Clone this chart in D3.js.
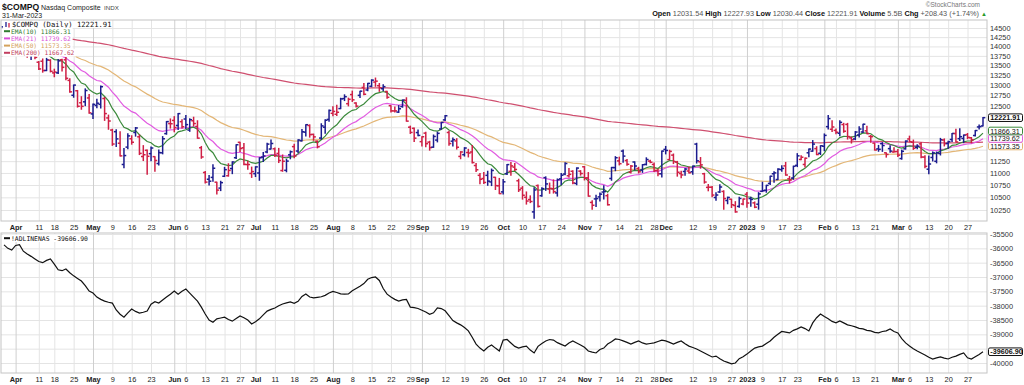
<!DOCTYPE html>
<html><head><meta charset="utf-8">
<script src="https://cdn.jsdelivr.net/npm/d3@7"></script>
<style>body{margin:0;background:#fff}svg{display:block}</style>
</head><body>
<svg id="c" width="1024" height="385"></svg>
<script>
const dates = [
"2022-03-29","2022-03-30","2022-03-31",
"2022-04-01","2022-04-04","2022-04-05","2022-04-06","2022-04-07","2022-04-08","2022-04-11","2022-04-12","2022-04-13","2022-04-14","2022-04-18","2022-04-19","2022-04-20","2022-04-21","2022-04-22","2022-04-25","2022-04-26","2022-04-27","2022-04-28","2022-04-29",
"2022-05-02","2022-05-03","2022-05-04","2022-05-05","2022-05-06","2022-05-09","2022-05-10","2022-05-11","2022-05-12","2022-05-13","2022-05-16","2022-05-17","2022-05-18","2022-05-19","2022-05-20","2022-05-23","2022-05-24","2022-05-25","2022-05-26","2022-05-27","2022-05-31",
"2022-06-01","2022-06-02","2022-06-03","2022-06-06","2022-06-07","2022-06-08","2022-06-09","2022-06-10","2022-06-13","2022-06-14","2022-06-15","2022-06-16","2022-06-17","2022-06-21","2022-06-22","2022-06-23","2022-06-24","2022-06-27","2022-06-28","2022-06-29","2022-06-30",
"2022-07-01","2022-07-05","2022-07-06","2022-07-07","2022-07-08","2022-07-11","2022-07-12","2022-07-13","2022-07-14","2022-07-15","2022-07-18","2022-07-19","2022-07-20","2022-07-21","2022-07-22","2022-07-25","2022-07-26","2022-07-27","2022-07-28","2022-07-29",
"2022-08-01","2022-08-02","2022-08-03","2022-08-04","2022-08-05","2022-08-08","2022-08-09","2022-08-10","2022-08-11","2022-08-12","2022-08-15","2022-08-16","2022-08-17","2022-08-18","2022-08-19","2022-08-22","2022-08-23","2022-08-24","2022-08-25","2022-08-26","2022-08-29","2022-08-30","2022-08-31",
"2022-09-01","2022-09-02","2022-09-06","2022-09-07","2022-09-08","2022-09-09","2022-09-12","2022-09-13","2022-09-14","2022-09-15","2022-09-16","2022-09-19","2022-09-20","2022-09-21","2022-09-22","2022-09-23","2022-09-26","2022-09-27","2022-09-28","2022-09-29","2022-09-30",
"2022-10-03","2022-10-04","2022-10-05","2022-10-06","2022-10-07","2022-10-10","2022-10-11","2022-10-12","2022-10-13","2022-10-14","2022-10-17","2022-10-18","2022-10-19","2022-10-20","2022-10-21","2022-10-24","2022-10-25","2022-10-26","2022-10-27","2022-10-28","2022-10-31",
"2022-11-01","2022-11-02","2022-11-03","2022-11-04","2022-11-07","2022-11-08","2022-11-09","2022-11-10","2022-11-11","2022-11-14","2022-11-15","2022-11-16","2022-11-17","2022-11-18","2022-11-21","2022-11-22","2022-11-23","2022-11-25","2022-11-28","2022-11-29","2022-11-30",
"2022-12-01","2022-12-02","2022-12-05","2022-12-06","2022-12-07","2022-12-08","2022-12-09","2022-12-12","2022-12-13","2022-12-14","2022-12-15","2022-12-16","2022-12-19","2022-12-20","2022-12-21","2022-12-22","2022-12-23","2022-12-27","2022-12-28","2022-12-29","2022-12-30",
"2023-01-03","2023-01-04","2023-01-05","2023-01-06","2023-01-09","2023-01-10","2023-01-11","2023-01-12","2023-01-13","2023-01-17","2023-01-18","2023-01-19","2023-01-20","2023-01-23","2023-01-24","2023-01-25","2023-01-26","2023-01-27","2023-01-30","2023-01-31",
"2023-02-01","2023-02-02","2023-02-03","2023-02-06","2023-02-07","2023-02-08","2023-02-09","2023-02-10","2023-02-13","2023-02-14","2023-02-15","2023-02-16","2023-02-17","2023-02-21","2023-02-22","2023-02-23","2023-02-24","2023-02-27","2023-02-28",
"2023-03-01","2023-03-02","2023-03-03","2023-03-06","2023-03-07","2023-03-08","2023-03-09","2023-03-10","2023-03-13","2023-03-14","2023-03-15","2023-03-16","2023-03-17","2023-03-20","2023-03-21","2023-03-22","2023-03-23","2023-03-24","2023-03-27","2023-03-28","2023-03-29","2023-03-30","2023-03-31"
];
const opens = [
14531,14532,14440,
14250,14277,14485,14001,13859,13833,13585,13610,13372,13635,13311,13312,13647,13647,13122,12755,12866,12574,12597,12690,
12310,12509,12536,12677,12216,11937,11900,11641,11179,11555,11741,11882,11784,11350,11485,11412,11347,11199,11430,11856,12085,
12158,12042,12129,12191,11936,12150,12019,11541,11009,10869,10907,10808,10687,10931,10942,11093,11324,11661,11540,11177,10990,
10985,10999,11338,11449,11513,11518,11417,11050,11055,11387,11566,11469,11695,11889,12040,11839,11685,11756,12002,12182,
12324,12302,12436,12675,12552,12772,12568,12753,12947,12885,12975,13080,12990,12916,12847,12504,12380,12352,12484,12632,12002,11976,11880,
11676,11867,11665,11554,11711,11961,12170,11882,11687,11692,11352,11390,11437,11448,11157,10950,10884,10950,10813,10909,10734,
10610,10982,11034,11123,10837,10685,10501,10456,10213,10738,10533,10903,10668,10674,10589,10877,10977,10941,11035,10782,11038,
11130,10897,10399,10469,10509,10607,10533,10885,11112,11256,11468,11263,11015,11232,11094,11060,11181,11251,11180,11052,10982,
11505,11283,11380,11232,10987,11031,11041,11025,11622,11237,10983,10702,10704,10497,10608,10619,10437,10463,10339,10321,10368,
10562,10476,10390,10364,10621,10643,10783,10983,10863,11070,11149,10877,10894,11160,11286,11179,11431,11467,11522,11420,
11574,12015,11955,11929,11865,12063,12066,11760,11737,11824,11893,11919,11794,11644,11516,11632,11430,11522,11448,
11459,11306,11518,11736,11663,11552,11627,11338,11079,11329,11247,11415,11713,11636,11725,11858,11743,11747,11833,11762,11814,12008,12031.54
];
const highs = [
14646.9,14541,14505,
14288,14542,14505,14014,13957,13846,13600,13669,13684,13650,13406,13654,13660,13710,13166,13006,12873,12721,12912,12772,
12546,12657,12983,12701,12282,11955,11944,11899,11526,11856,11808,11995,11830,11588,11492,11559,11347,11491,11789,12131.5,12193,
12246,12320,12171,12275,12196,12233,12150,11570,11030,10945,11173,10808,10827,11118,11195,11236,11608,11662,11634,11250,11123,
11131,11324,11438,11642,11713,11535,11527,11384,11289,11469,11621,11716,11949,12060,12056,11844,11690,12081,12174,12405,
12477,12517,12683,12766,12686,12857,12577,12855,13047,13047.5,13138,13181,13045,13012,12854,12504,12474,12506,12640,12695,12027,11986,11938,
11787,11888,11684,11825,11888,12112.5,12270,11911,11755,11743,11456,11543,11507,11591,11198,10990,11012,11036,11082,10909,10886,
10861,11177,11223,11202,10869,10718,10609,10530,10693,10751,10693,10918,10790,10856,10874,10991,11215,11091,11045,11108,11048,
11135,11008,10434,10541,10587,10735,10563,11117,11347,11336,11492,11283,11156,11234,11119,11176,11322,11268,11213,11078,11468.5,
11570,11486,11404,11245,11034,11094,11125,11144,11640,11328,10993,10760,10722,10593,10753,10632,10505,10463,10414,10502,10468,
10597,10502,10408,10595,10807,10744,10932,11027,11089,11151,11223,10927,11143,11412,11365,11320,11514,11700,11564,11586,
11849,12270,12153,11960,12150,12091,12090,11780,11903,12015,12071,12025,11811,11644,11593,11654,11430,11583,11539,
11500,11490,11693,11799,11711,11606,11655,11369,11363,11450,11446,11749,11737,11686,11861,11957,11964,11824,11859,11768,11928,12052,12227.93
];
const lows = [
14400,14384,14218,
14111,14252,14163,13714,13652,13674,13395,13329,13369,13336,13213,13298,13357,13138,12828,12708,12471,12420,12505,12325,
12202,12455,12449,12159,11955,11594,11566,11363,11108,11519,11620,11799,11392,11263,10971,11258,11036,11166,11408,11843,11982,
11898,11950,11981,11972,11908,12038,11752,11312,10792,10752,10826,10565,10636,10925,10933,10985,11306,11460,11173,11078,10907,
10925,10848,11243,11433,11512,11352,11220,11035,11024,11301,11321,11437,11690,11804,11777,11706,11538,11729,11864,12139,
12266,12270,12434,12627,12500,12606,12474,12701,12768,12866,12966,12975,12851,12874,12680,12353,12353,12343,12469,12141,11860,11679,11807,
11578,11565,11488,11550,11671,11961,12159,11597,11582,11513,11302,11360,11341,11210,11032,10775,10781,10744,10738,10658,10575,
10568,10967,10952,11049,10618,10464,10366,10395,10088,10311,10522,10641,10582,10586,10525,10757,10963,10914,10774,10755,10954,
10854,10523,10263,10319,10425,10467,10347,10848,11047,11170,11228,11160,10999,11066,10999,11012,11169,11217,11030,10941,10917,
11407,11283,11199,10933,10899,10952,11000,10975,11210,11100,10788,10632,10513,10441,10600,10265,10373,10299,10207,10306,10352,
10306,10322,10296,10266,10620,10603,10762,10807,10862,11034,10952,10794,10867,11134,11279,11125,11346,11464,11389,11393,
11476,11960,11902,11855,11806,11887,11734,11645,11720,11782,11883,11852,11663,11491,11464,11462,11337,11445,11446,
11352,11292,11512,11673,11505,11518,11321,11107,10982,11254,11214,11383,11581,11532,11681,11669,11700,11655,11743,11650,11803,11961,12030.44
];
const closes = [
14619.64,14442.27,14220.52,
14261.50,14532.55,14204.17,13888.82,13897.30,13711.00,13411.96,13371.57,13643.59,13351.08,13332.36,13619.66,13453.07,13174.65,12839.29,13004.85,12490.74,12488.93,12871.53,12334.64,
12536.02,12563.76,12964.86,12317.69,12144.66,11623.25,11737.67,11364.24,11370.96,11805.00,11662.79,11984.52,11418.15,11388.50,11354.62,11535.27,11264.45,11434.74,11740.65,12131.13,12081.39,
11994.46,12316.90,12012.73,12061.37,12175.23,12086.27,11754.23,11340.02,10809.23,10828.35,11099.15,10646.10,10798.35,11069.30,11053.08,11232.19,11607.62,11524.55,11181.54,11177.89,11028.74,
11127.85,11322.24,11361.85,11621.35,11635.31,11372.60,11264.73,11247.58,11251.19,11452.42,11360.05,11713.15,11897.65,12059.61,11834.11,11782.67,11562.58,12032.42,12162.59,12390.69,
12368.98,12348.76,12668.16,12720.58,12657.55,12644.46,12493.93,12854.80,12779.91,13047.19,13128.05,13102.55,12938.12,12965.34,12705.22,12381.57,12381.30,12431.53,12639.27,12141.71,11883.14,11753.37,11816.20,
11785.13,11630.86,11544.91,11791.90,11862.13,12112.31,12266.41,11633.57,11719.68,11552.36,11448.40,11535.02,11425.05,11220.19,11066.81,10867.93,10802.92,10829.50,11051.64,10737.51,10575.62,
10815.43,11176.41,11148.64,11073.31,10652.41,10542.10,10426.19,10417.10,10649.15,10321.39,10675.80,10772.40,10680.51,10614.84,10859.72,10952.61,11199.12,10970.99,10792.68,11102.45,10988.15,
10890.85,10524.80,10342.94,10475.25,10564.52,10616.20,10353.17,11114.15,11323.33,11196.22,11358.41,11183.66,11144.96,11146.06,11024.51,11174.41,11285.32,11226.36,11049.50,10983.78,11468.00,
11482.45,11461.50,11239.94,11014.89,10958.55,11082.00,11004.62,11143.74,11256.81,11170.89,10810.53,10705.41,10546.03,10547.11,10709.37,10476.12,10497.86,10353.23,10213.29,10478.09,10466.48,
10386.98,10458.76,10305.24,10569.29,10635.65,10742.63,10931.67,11001.10,11079.16,11095.11,10957.01,10852.27,11140.43,11364.41,11334.27,11313.36,11512.41,11621.71,11393.81,11584.55,
11816.32,12200.82,12006.95,11887.45,12113.79,11910.52,11789.58,11718.12,11891.79,11960.15,12070.59,11855.83,11787.27,11492.30,11507.07,11590.40,11394.94,11466.98,11455.54,
11379.48,11462.98,11689.01,11675.74,11530.33,11576.00,11338.35,11138.89,11188.84,11428.15,11434.05,11717.28,11630.51,11675.54,11860.11,11669.96,11787.40,11823.96,11768.84,11716.08,11926.24,12013.47,12221.91
];
const prevClose = 14354.90;
const adLine = [
-35880,-36000,-36060,-35900,-35870,-36100,-36200,-36280,-36370,-36460,-36500,-36420,-36370,-36550,-36750,-36780,-36720,-36850,-36960,-37050,
-37140,-37300,-37490,-37560,-37700,-37780,-37840,-37880,-37910,-38150,-38300,-38400,-38250,-38120,-38200,-38260,-38230,-38190,-37950,-37860,
-37910,-37800,-37700,-37600,-37490,-37600,-37500,-37420,-37560,-37700,-37840,-38050,-38290,-38500,-38580,-38460,-38430,-38400,-38480,-38540,
-38450,-38360,-38420,-38500,-38640,-38560,-38460,-38320,-38190,-38130,-38080,-38000,-37940,-37900,-37870,-37920,-37850,-37680,-37590,-37700,
-37730,-37710,-37690,-37640,-37560,-37500,-37540,-37590,-37600,-37590,-37480,-37400,-37320,-37230,-37080,-37020,-37000,-37120,-37400,-37600,
-37700,-37780,-37840,-37800,-37780,-38050,-38070,-38100,-38160,-38220,-38300,-38250,-38080,-38100,-38180,-38350,-38520,-38600,-38670,-38760,
-38880,-39100,-39340,-39480,-39580,-39450,-39370,-39480,-39580,-39200,-39180,-39300,-39420,-39480,-39440,-39410,-39550,-39650,-39420,-39320,
-39230,-39180,-39200,-39290,-39350,-39410,-39300,-39230,-39300,-39370,-39450,-39580,-39620,-39650,-39530,-39480,-39340,-39260,-39160,-39180,
-39230,-39280,-39340,-39280,-39230,-39300,-39340,-39320,-39300,-39250,-39200,-39230,-39280,-39340,-39280,-39230,-39330,-39410,-39460,-39510,
-39580,-39650,-39720,-39790,-39760,-39850,-39930,-39980,-40030,-40000,-39850,-39780,-39690,-39580,-39480,-39440,-39410,-39320,-39230,-39100,
-39000,-38900,-38920,-38950,-38860,-38810,-38740,-38800,-38880,-38600,-38420,-38290,-38380,-38460,-38550,-38600,-38530,-38600,-38670,-38700,
-38740,-38790,-38810,-38860,-38880,-38930,-38950,-38900,-38880,-38810,-38900,-38950,-39150,-39300,-39410,-39500,-39580,-39650,-39720,-39800,
-39860,-39820,-39790,-39830,-39860,-39800,-39760,-39700,-39650,-39820,-39860,-39780,-39700,-39606.90
];
const emaPeriods = [10, 21, 50, 200];
const emaSeeds = [14100, 13850, 13900, 14288];
const emaColors = ["#3b8a3b", "#e15be1", "#e3b676", "#cf4f6f"];
const emaTextColors = ["#2f7a2f", "#d94fd9", "#d4a25c", "#c23f60"];
const emaLegendValues = ["11866.31", "11739.62", "11573.35", "11667.62"];
const priceTicks = [10250,10500,10750,11000,11250,11500,11750,12000,12250,12500,12750,13000,13250,13500,13750,14000,14250,14500];
const adTicks = [-35500,-36000,-36500,-37000,-37500,-38000,-38500,-39000,-39500,-40000];
const tickDates = ["2022-04-01","2022-04-11","2022-04-18","2022-04-25","2022-05-02","2022-05-09","2022-05-16","2022-05-23","2022-06-01","2022-06-06","2022-06-13","2022-06-21","2022-06-27","2022-07-01","2022-07-11","2022-07-18","2022-07-25","2022-08-01","2022-08-08","2022-08-15","2022-08-22","2022-08-29","2022-09-01","2022-09-12","2022-09-19","2022-09-26","2022-10-03","2022-10-10","2022-10-17","2022-10-24","2022-11-01","2022-11-07","2022-11-14","2022-11-21","2022-11-28","2022-12-01","2022-12-12","2022-12-19","2022-12-27","2023-01-03","2023-01-09","2023-01-17","2023-01-23","2023-02-01","2023-02-06","2023-02-13","2023-02-21","2023-03-01","2023-03-06","2023-03-13","2023-03-20","2023-03-27"];
const tickLabels = ["Apr","11","18","25","May","9","16","23","Jun","6","13","21","27","Jul","11","18","25","Aug","8","15","22","29","Sep","12","19","26","Oct","10","17","24","Nov","7","14","21","28","Dec","12","19","27","2023","9","17","23","Feb","6","13","21","Mar","6","13","20","27"];

const svg = d3.select("#c");
const X0 = 1, X1 = 987, T0 = 20, T1 = 221, L0 = 233, L1 = 373;
const FONT = "'Liberation Sans', Arial, sans-serif";
const MONO = "'DejaVu Sans Mono', monospace";
const x = d3.scalePoint().domain(dates).range([4, 983]);
const y = d3.scaleLog().domain([10250, 14500]).range([210, 28]);
const y2 = d3.scaleLinear().domain([-40000, -35500]).range([363, 234]);
const isMonth = l => isNaN(+l) || l === "2023";

// value boxes (y positions) on right axis
const priceBoxes = [
  { y: y(12221.91), txt: "12221.91", stroke: "#111", bold: true },
  { y: 131, txt: "11866.31", stroke: emaColors[0], bold: false },
  { y: 138.5, txt: "11739.62", stroke: emaColors[1], bold: false },
  { y: 146, txt: "11573.35", stroke: emaColors[2], bold: false }
];
const adBoxes = [{ y: y2(-39606.90), txt: "-39606.90", stroke: "#111", bold: true }];

// header
svg.append("text").attr("x", 2).attr("y", 10).attr("font-family", FONT).attr("font-weight", "bold").attr("font-size", 8.6).attr("fill", "#111").text("$COMPQ");
svg.append("text").attr("x", 41).attr("y", 9.5).attr("font-family", FONT).attr("font-size", 7).attr("fill", "#222").text("Nasdaq Composite");
svg.append("text").attr("x", 104).attr("y", 9.5).attr("font-family", FONT).attr("font-size", 6.2).attr("fill", "#444").text("INDX");
svg.append("text").attr("x", 2).attr("y", 18).attr("font-family", FONT).attr("font-size", 7).attr("fill", "#222").text("31-Mar-2023");
svg.append("text").attr("x", 980).attr("y", 6.5).attr("text-anchor", "end").attr("font-family", FONT).attr("font-size", 6.5).attr("fill", "#777").text("\u00A9StockCharts.com");
const hdr = svg.append("text").attr("x", 987).attr("y", 16).attr("text-anchor", "end").attr("font-family", FONT).attr("font-size", 7.3).attr("fill", "#444");
[["Open ",1],["12031.54 ",0],["High ",1],["12227.93 ",0],["Low ",1],["12030.44 ",0],["Close ",1],["12221.91 ",0],["Volume ",1],["5.5B ",0],["Chg ",1],["+208.43 (+1.74%) ",0]].forEach(([t,b]) => {
  hdr.append("tspan").attr("font-weight", b ? "bold" : "normal").attr("fill", b ? "#111" : "#555").text(t);
});
hdr.append("tspan").attr("fill", "#2a9a2a").attr("font-size", 6).text("\u25B2");

// panels background & grid
function panelGrid(top, bottom, yScale, ticks) {
  const g = svg.append("g");
  g.append("rect").attr("x", X0).attr("y", top).attr("width", X1 - X0).attr("height", bottom - top).attr("fill", "#fff");
  g.append("g").attr("transform", `translate(${X1},0)`)
    .call(d3.axisLeft(yScale).tickValues(ticks).tickSize(X1 - X0).tickFormat(""))
    .call(a => { a.select(".domain").remove(); a.selectAll("line").attr("stroke", "#e4e4e4"); });
  g.append("g").attr("transform", `translate(0,${top})`)
    .call(d3.axisBottom(x).tickValues(tickDates).tickSize(bottom - top).tickFormat(""))
    .call(a => { a.select(".domain").remove(); a.selectAll("line").attr("stroke", (d, i) => isMonth(tickLabels[i]) ? "#cfcfcf" : "#e4e4e4"); });
  g.append("rect").attr("x", X0).attr("y", top).attr("width", X1 - X0).attr("height", bottom - top).attr("fill", "none").attr("stroke", "#c4c4c4");
}
panelGrid(T0, T1, y, priceTicks);
panelGrid(L0, L1, y2, adTicks);

// right axis labels (labels hidden behind value boxes are left out)
function rightAxis(yScale, ticks, boxes) {
  const shown = ticks.filter(t => boxes.every(b => Math.abs(yScale(t) - b.y) > 4.5));
  svg.append("g").attr("transform", `translate(${X1},0)`)
    .call(d3.axisRight(yScale).tickValues(shown).tickSize(0).tickPadding(3).tickFormat(d => d))
    .call(a => { a.select(".domain").remove(); a.selectAll("text").attr("font-family", FONT).attr("font-size", 7.4).attr("fill", "#333"); });
}
rightAxis(y, priceTicks, priceBoxes);
rightAxis(y2, adTicks, adBoxes);

// date axes
function dateAxis(yPos) {
  svg.append("g").attr("transform", `translate(0,${yPos})`)
    .call(d3.axisBottom(x).tickValues(tickDates).tickSize(0).tickPadding(3.5).tickFormat((d, i) => tickLabels[i]))
    .call(a => { a.select(".domain").remove(); a.selectAll("text").attr("font-family", FONT).attr("font-size", 7.4).attr("fill", "#222")
      .attr("font-weight", (d, i) => isMonth(tickLabels[i]) ? "bold" : "normal"); });
}
dateAxis(T1);
dateAxis(L1);

// clip
const defs = svg.append("defs");
defs.append("clipPath").attr("id", "cp1").append("rect").attr("x", X0).attr("y", T0).attr("width", X1 - X0).attr("height", T1 - T0);
defs.append("clipPath").attr("id", "cp2").append("rect").attr("x", X0).attr("y", L0).attr("width", X1 - X0).attr("height", L1 - L0);

const plot = svg.append("g").attr("clip-path", "url(#cp1)");
// EMAs computed from the closes
function ema(period, seed) { const a = 2 / (period + 1); let e = seed; return closes.map(c => (e = a * c + (1 - a) * e)); }
const emas = emaPeriods.map((p, k) => ema(p, emaSeeds[k]));
[3, 2, 1, 0].forEach(k => {
  plot.append("path").datum(emas[k]).attr("fill", "none").attr("stroke", emaColors[k]).attr("stroke-width", 1.2)
    .attr("d", d3.line().x((d, i) => x(dates[i])).y(d => y(d)));
});
// OHLC bars
const bars = plot.append("g").selectAll("g").data(dates).join("g")
  .attr("stroke", (d, i) => closes[i] >= (i ? closes[i - 1] : prevClose) ? "#1c1c8e" : "#cf1f45")
  .attr("stroke-width", 1.5);
bars.append("line").attr("x1", d => x(d)).attr("x2", d => x(d)).attr("y1", (d, i) => y(highs[i]) - 0.5).attr("y2", (d, i) => y(lows[i]) + 0.5);
bars.append("line").attr("x1", d => x(d) - 2.3).attr("x2", d => x(d)).attr("y1", (d, i) => y(opens[i])).attr("y2", (d, i) => y(opens[i]));
bars.append("line").attr("x1", d => x(d)).attr("x2", d => x(d) + 2.3).attr("y1", (d, i) => y(closes[i])).attr("y2", (d, i) => y(closes[i]));

// AD line
svg.append("g").attr("clip-path", "url(#cp2)").append("path").datum(adLine).attr("fill", "none").attr("stroke", "#111").attr("stroke-width", 1.2)
  .attr("d", d3.line().x((d, i) => x(dates[i])).y(d => y2(d)));

// legends (white backing sized to the text)
function legendLine(yy, color, txt, fs) {
  const bg = svg.append("rect").attr("x", 3).attr("y", yy - 6).attr("height", 7.5).attr("fill", "#fff");
  svg.append("line").attr("x1", 4).attr("x2", 10).attr("y1", yy - 2.3).attr("y2", yy - 2.3).attr("stroke", color).attr("stroke-width", 2);
  const t = svg.append("text").attr("x", 11).attr("y", yy).attr("font-family", MONO).attr("font-size", fs).attr("fill", color).text(txt);
  bg.attr("width", t.node().getComputedTextLength() + 10);
}
svg.append("rect").attr("x", 3).attr("y", 21).attr("width", 106).attr("height", 7).attr("fill", "#fff");
svg.append("line").attr("x1", 6).attr("x2", 6).attr("y1", 22).attr("y2", 27).attr("stroke", "#1c1c8e").attr("stroke-width", 1.3);
svg.append("line").attr("x1", 9).attr("x2", 9).attr("y1", 23).attr("y2", 28).attr("stroke", "#cf1f45").attr("stroke-width", 1.3);
svg.append("text").attr("x", 12).attr("y", 27).attr("font-family", MONO).attr("font-size", 7.2).attr("fill", "#111").text("$COMPQ (Daily) 12221.91");
emaPeriods.forEach((p, k) => legendLine(33.5 + k * 7.2, emaTextColors[k], `EMA(${p}) ${emaLegendValues[k]}`, 6.2));
legendLine(240.5, "#111", "!ADLINENAS -39606.90", 6.4);

// value boxes
function valBox(b) {
  const g = svg.append("g");
  g.append("rect").attr("x", 988.5).attr("y", b.y - 3.8).attr("width", 34).attr("height", 7.6).attr("rx", 1.5).attr("fill", "#fff").attr("stroke", b.stroke).attr("stroke-width", 1);
  g.append("text").attr("x", 990.3).attr("y", b.y + 2.5).attr("font-family", FONT).attr("font-size", 7.2).attr("font-weight", b.bold ? "bold" : "normal").attr("fill", "#111").text(b.txt);
}
[...priceBoxes].reverse().forEach(valBox);
adBoxes.forEach(valBox);
</script>
</body></html>
